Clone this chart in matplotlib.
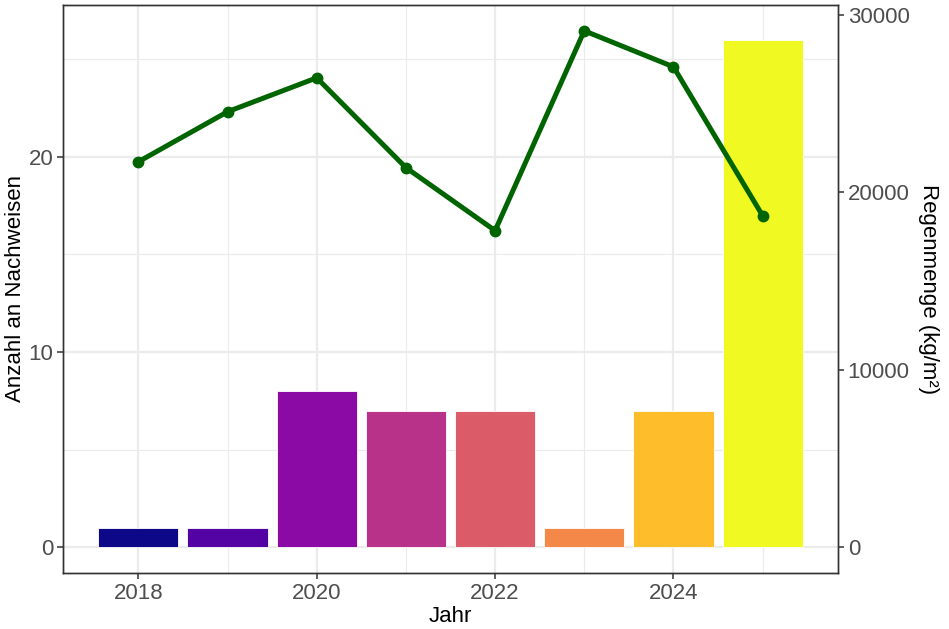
import matplotlib
matplotlib.use("Agg")
import matplotlib.pyplot as plt
import numpy as np

years = [2018, 2019, 2020, 2021, 2022, 2023, 2024, 2025]
nachweise = [1, 1, 8, 7, 7, 1, 7, 26]
regen = [21720, 24540, 26450, 21390, 17840, 29100, 27070, 18680]
scale = 1100.0

plt.rcParams['font.family'] = ['Liberation Sans', 'DejaVu Sans']

fig = plt.figure(figsize=(9.49, 6.29), dpi=100)
ax = fig.add_axes([63/949, (629-573)/629, 775/949, 568/629])

colors = plt.get_cmap('plasma')(np.linspace(0, 1, len(years)))
ax.bar(years, nachweise, width=0.9, color=colors, edgecolor='white', linewidth=0.6, zorder=3)
ax.plot(years, np.array(regen)/scale, color='#006400', linewidth=3.6, marker='o', markersize=7.5, zorder=4, solid_capstyle='butt')

ymax = max(max(nachweise), max(regen)/scale)
ax.set_ylim(-0.05*ymax, 1.05*ymax)
ax.set_xlim(2017.55 - 0.395, 2025.45 + 0.395)

ax.set_yticks([0, 10, 20])
ax.set_yticks([5, 15, 25], minor=True)
ax.set_xticks([2018, 2020, 2022, 2024])
ax.set_xticks([2019, 2021, 2023, 2025], minor=True)
ax.grid(which='major', color='#EBEBEB', linewidth=1.6, zorder=0)
ax.grid(which='minor', color='#EBEBEB', linewidth=0.8, zorder=0)
ax.set_axisbelow(True)
ax.tick_params(which='major', length=4, width=1.1, color='#333333', labelcolor='#4D4D4D', labelsize=16, pad=3)
ax.tick_params(which='minor', length=0)
for s in ax.spines.values():
    s.set_color('#333333')
    s.set_linewidth(1.0)

ax.set_xlabel('Jahr', fontsize=16, labelpad=2)
ax.set_ylabel('Anzahl an Nachweisen', fontsize=16, labelpad=2)

ax2 = ax.twinx()
lo, hi = ax.get_ylim()
ax2.set_ylim(lo*scale, hi*scale)
ax2.set_yticks([0, 10000, 20000, 30000])
ax2.tick_params(length=4, width=1.1, color='#333333', labelcolor='#4D4D4D', labelsize=16, pad=3)
for s in ax2.spines.values():
    s.set_color('#333333')
    s.set_linewidth(1.0)
ax2.set_ylabel('Regenmenge (kg/m²)', fontsize=16, rotation=-90, labelpad=21)

fig.savefig('out.png', dpi=100)
